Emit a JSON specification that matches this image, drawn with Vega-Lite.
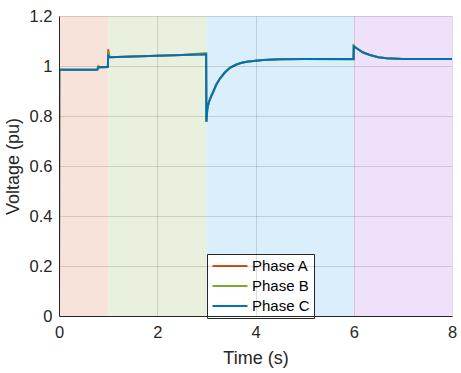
{
  "$schema": "https://vega.github.io/schema/vega-lite/v6.json",
  "autosize": "none",
  "width": 393,
  "height": 300,
  "padding": {"left": 59, "top": 16, "right": 9, "bottom": 57},
  "background": "white",
  "config": {
    "font": "Liberation Sans",
    "view": {"stroke": null},
    "axis": {
      "gridColor": "#000000",
      "gridOpacity": 0.13,
      "gridWidth": 1,
      "domainColor": "#262626",
      "domainWidth": 1,
      "ticks": false,
      "labelFlush": false,
      "labelColor": "#262626",
      "labelFont": "Liberation Sans",
      "labelFontSize": 16.5,
      "titleColor": "#262626",
      "titleFont": "Liberation Sans",
      "titleFontSize": 18,
      "titleFontWeight": "normal"
    }
  },
  "datasets": {
    "regions": [
      {"start": 0, "end": 1, "region": "R1"},
      {"start": 1, "end": 3, "region": "R2"},
      {"start": 3, "end": 6, "region": "R3"},
      {"start": 6, "end": 8, "region": "R4"}
    ],
    "lines": [
      {"t": 0, "v": 0, "phase": "Phase A"},
      {"t": 0.005, "v": 0.985, "phase": "Phase A"},
      {"t": 0.78, "v": 0.985, "phase": "Phase A"},
      {"t": 0.8, "v": 0.999, "phase": "Phase A"},
      {"t": 0.85, "v": 0.995, "phase": "Phase A"},
      {"t": 0.995, "v": 0.996, "phase": "Phase A"},
      {"t": 1.0, "v": 1.067, "phase": "Phase A"},
      {"t": 1.03, "v": 1.035, "phase": "Phase A"},
      {"t": 1.5, "v": 1.038, "phase": "Phase A"},
      {"t": 2.0, "v": 1.041, "phase": "Phase A"},
      {"t": 2.5, "v": 1.044, "phase": "Phase A"},
      {"t": 2.995, "v": 1.047, "phase": "Phase A"},
      {"t": 3.0, "v": 0.777, "phase": "Phase A"},
      {"t": 3.02, "v": 0.83, "phase": "Phase A"},
      {"t": 3.05, "v": 0.855, "phase": "Phase A"},
      {"t": 3.1, "v": 0.88, "phase": "Phase A"},
      {"t": 3.14, "v": 0.897, "phase": "Phase A"},
      {"t": 3.2, "v": 0.925, "phase": "Phase A"},
      {"t": 3.28, "v": 0.951, "phase": "Phase A"},
      {"t": 3.38, "v": 0.975, "phase": "Phase A"},
      {"t": 3.48, "v": 0.993, "phase": "Phase A"},
      {"t": 3.6, "v": 1.005, "phase": "Phase A"},
      {"t": 3.7, "v": 1.012, "phase": "Phase A"},
      {"t": 3.82, "v": 1.017, "phase": "Phase A"},
      {"t": 4.0, "v": 1.021, "phase": "Phase A"},
      {"t": 4.16, "v": 1.024, "phase": "Phase A"},
      {"t": 4.5, "v": 1.027, "phase": "Phase A"},
      {"t": 5.0, "v": 1.028, "phase": "Phase A"},
      {"t": 5.995, "v": 1.028, "phase": "Phase A"},
      {"t": 6.0, "v": 1.08, "phase": "Phase A"},
      {"t": 6.06, "v": 1.071, "phase": "Phase A"},
      {"t": 6.19, "v": 1.054, "phase": "Phase A"},
      {"t": 6.33, "v": 1.044, "phase": "Phase A"},
      {"t": 6.5, "v": 1.035, "phase": "Phase A"},
      {"t": 6.67, "v": 1.031, "phase": "Phase A"},
      {"t": 7.0, "v": 1.028, "phase": "Phase A"},
      {"t": 8.0, "v": 1.028, "phase": "Phase A"},

      {"t": 0, "v": 0, "phase": "Phase B"},
      {"t": 0.005, "v": 0.985, "phase": "Phase B"},
      {"t": 0.78, "v": 0.985, "phase": "Phase B"},
      {"t": 0.8, "v": 0.995, "phase": "Phase B"},
      {"t": 0.85, "v": 0.995, "phase": "Phase B"},
      {"t": 0.995, "v": 0.996, "phase": "Phase B"},
      {"t": 1.0, "v": 1.055, "phase": "Phase B"},
      {"t": 1.03, "v": 1.035, "phase": "Phase B"},
      {"t": 1.5, "v": 1.038, "phase": "Phase B"},
      {"t": 2.0, "v": 1.041, "phase": "Phase B"},
      {"t": 2.5, "v": 1.044, "phase": "Phase B"},
      {"t": 2.995, "v": 1.052, "phase": "Phase B"},
      {"t": 3.0, "v": 0.777, "phase": "Phase B"},
      {"t": 3.02, "v": 0.83, "phase": "Phase B"},
      {"t": 3.05, "v": 0.855, "phase": "Phase B"},
      {"t": 3.1, "v": 0.88, "phase": "Phase B"},
      {"t": 3.14, "v": 0.897, "phase": "Phase B"},
      {"t": 3.2, "v": 0.925, "phase": "Phase B"},
      {"t": 3.28, "v": 0.951, "phase": "Phase B"},
      {"t": 3.38, "v": 0.975, "phase": "Phase B"},
      {"t": 3.48, "v": 0.993, "phase": "Phase B"},
      {"t": 3.6, "v": 1.005, "phase": "Phase B"},
      {"t": 3.7, "v": 1.012, "phase": "Phase B"},
      {"t": 3.82, "v": 1.017, "phase": "Phase B"},
      {"t": 4.0, "v": 1.021, "phase": "Phase B"},
      {"t": 4.16, "v": 1.024, "phase": "Phase B"},
      {"t": 4.5, "v": 1.027, "phase": "Phase B"},
      {"t": 5.0, "v": 1.028, "phase": "Phase B"},
      {"t": 5.995, "v": 1.026, "phase": "Phase B"},
      {"t": 6.0, "v": 1.082, "phase": "Phase B"},
      {"t": 6.06, "v": 1.071, "phase": "Phase B"},
      {"t": 6.19, "v": 1.054, "phase": "Phase B"},
      {"t": 6.33, "v": 1.044, "phase": "Phase B"},
      {"t": 6.5, "v": 1.035, "phase": "Phase B"},
      {"t": 6.67, "v": 1.031, "phase": "Phase B"},
      {"t": 7.0, "v": 1.028, "phase": "Phase B"},
      {"t": 8.0, "v": 1.028, "phase": "Phase B"},

      {"t": 0, "v": 0, "phase": "Phase C"},
      {"t": 0.005, "v": 0.985, "phase": "Phase C"},
      {"t": 0.78, "v": 0.985, "phase": "Phase C"},
      {"t": 0.8, "v": 0.994, "phase": "Phase C"},
      {"t": 0.85, "v": 0.995, "phase": "Phase C"},
      {"t": 0.995, "v": 0.996, "phase": "Phase C"},
      {"t": 1.0, "v": 1.042, "phase": "Phase C"},
      {"t": 1.03, "v": 1.035, "phase": "Phase C"},
      {"t": 1.5, "v": 1.038, "phase": "Phase C"},
      {"t": 2.0, "v": 1.041, "phase": "Phase C"},
      {"t": 2.5, "v": 1.044, "phase": "Phase C"},
      {"t": 2.995, "v": 1.047, "phase": "Phase C"},
      {"t": 3.0, "v": 0.777, "phase": "Phase C"},
      {"t": 3.02, "v": 0.83, "phase": "Phase C"},
      {"t": 3.05, "v": 0.855, "phase": "Phase C"},
      {"t": 3.1, "v": 0.88, "phase": "Phase C"},
      {"t": 3.14, "v": 0.897, "phase": "Phase C"},
      {"t": 3.2, "v": 0.925, "phase": "Phase C"},
      {"t": 3.28, "v": 0.951, "phase": "Phase C"},
      {"t": 3.38, "v": 0.975, "phase": "Phase C"},
      {"t": 3.48, "v": 0.993, "phase": "Phase C"},
      {"t": 3.6, "v": 1.005, "phase": "Phase C"},
      {"t": 3.7, "v": 1.012, "phase": "Phase C"},
      {"t": 3.82, "v": 1.017, "phase": "Phase C"},
      {"t": 4.0, "v": 1.021, "phase": "Phase C"},
      {"t": 4.16, "v": 1.024, "phase": "Phase C"},
      {"t": 4.5, "v": 1.027, "phase": "Phase C"},
      {"t": 5.0, "v": 1.028, "phase": "Phase C"},
      {"t": 5.995, "v": 1.028, "phase": "Phase C"},
      {"t": 6.0, "v": 1.078, "phase": "Phase C"},
      {"t": 6.06, "v": 1.071, "phase": "Phase C"},
      {"t": 6.19, "v": 1.054, "phase": "Phase C"},
      {"t": 6.33, "v": 1.044, "phase": "Phase C"},
      {"t": 6.5, "v": 1.035, "phase": "Phase C"},
      {"t": 6.67, "v": 1.031, "phase": "Phase C"},
      {"t": 7.0, "v": 1.028, "phase": "Phase C"},
      {"t": 8.0, "v": 1.028, "phase": "Phase C"}
    ]
  },
  "layer": [
    {
      "data": {"name": "regions"},
      "mark": {"type": "rect"},
      "encoding": {
        "x": {"field": "start", "type": "quantitative", "scale": {"domain": [0, 8], "nice": false}},
        "x2": {"field": "end"},
        "color": {
          "field": "region",
          "type": "nominal",
          "scale": {"domain": ["R1", "R2", "R3", "R4"], "range": ["#F8E3DB", "#E9F0DD", "#DBEEFC", "#F0E1FA"]},
          "legend": null
        }
      }
    },
    {
      "data": {"name": "lines"},
      "mark": {"type": "line", "strokeWidth": 2, "clip": true},
      "encoding": {
        "x": {
          "field": "t",
          "type": "quantitative",
          "scale": {"domain": [0, 8], "nice": false},
          "axis": {"values": [0, 2, 4, 6, 8], "title": "Time (s)", "labelPadding": 8, "titlePadding": 9, "zindex": 1}
        },
        "y": {
          "field": "v",
          "type": "quantitative",
          "scale": {"domain": [0, 1.2], "nice": false, "zero": false},
          "axis": {"values": [0, 0.2, 0.4, 0.6, 0.8, 1, 1.2], "format": "~g", "title": "Voltage (pu)", "labelPadding": 7, "titlePadding": 7, "zindex": 1}
        },
        "color": {
          "field": "phase",
          "type": "nominal",
          "scale": {"domain": ["Phase A", "Phase B", "Phase C"], "range": ["#D95319", "#77AC30", "#0072BD"]},
          "legend": {
            "title": null,
            "orient": "none",
            "legendX": 148,
            "legendY": 238,
            "symbolType": "M-2.5,0H2.5",
            "symbolSize": 196,
            "symbolStrokeWidth": 2,
            "symbolOffset": 11,
            "labelFontSize": 15,
            "labelFont": "Liberation Sans",
            "labelColor": "#000000",
            "labelOffset": 14,
            "rowPadding": 4,
            "padding": 4,
            "fillColor": "white",
            "strokeColor": "#262626"
          }
        }
      }
    }
  ],
  "resolve": {"scale": {"color": "independent"}}
}
